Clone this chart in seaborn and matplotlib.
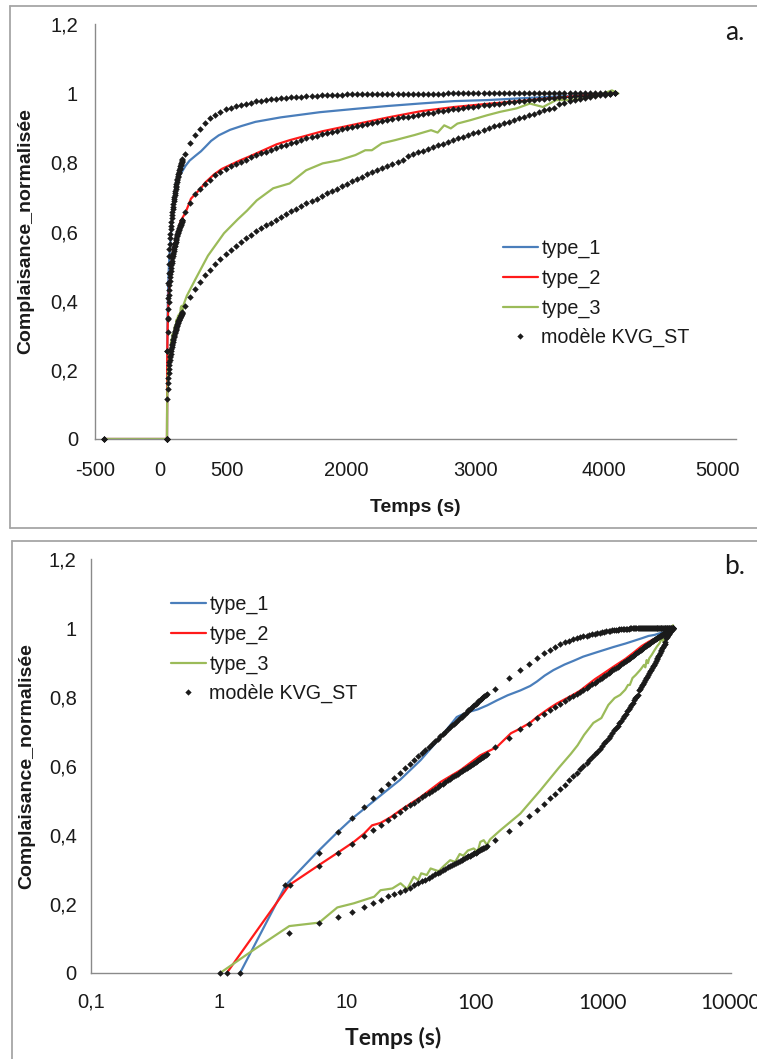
import matplotlib
matplotlib.use("Agg")
import matplotlib.pyplot as plt
import seaborn as sns
import pandas as pd
from matplotlib.lines import Line2D
from matplotlib.ticker import NullLocator

sns.set_style("white")
plt.rcParams['font.family'] = ['Liberation Sans', 'DejaVu Sans']

# ---------------- data (time in s, normalised compliance) ----------------
series_names = ["type_1", "type_2", "type_3"]
model_name = "modèle KVG_ST"

t1 = [-500, 0, 1.46, 3.33, 5.7, 8.2, 11, 15.3, 20.6, 26, 37.6, 54, 72, 77, 90,
      105, 125, 148, 180, 226, 270, 305, 350, 410, 500, 590, 700, 900, 1210, 1500,
      1750, 2000, 2270, 2530, 2900, 3290, 3560]
v1 = [0, 0, 0, 0.255, 0.346, 0.404, 0.448, 0.491, 0.530, 0.560, 0.617, 0.684, 0.742, 0.747, 0.757,
      0.764, 0.776, 0.790, 0.805, 0.819, 0.832, 0.845, 0.862, 0.878, 0.894, 0.905, 0.917, 0.930, 0.945, 0.955,
      0.963, 0.970, 0.977, 0.980, 0.987, 0.994, 1.0]

t2 = [-500, 0, 1.15, 3.54, 6.05, 8.65, 11.3, 13.6, 15.7, 18.3, 22, 26.2, 37.6, 54, 77,
      110, 148, 191, 211, 269, 305, 373, 435, 581, 660, 867, 971, 1232, 1491, 1751,
      2011, 2271, 2531, 2765, 3030, 3285, 3560]
v2 = [0, 0, 0, 0.255, 0.313, 0.351, 0.380, 0.404, 0.428, 0.435, 0.452, 0.472, 0.510, 0.554, 0.588,
      0.631, 0.655, 0.695, 0.703, 0.725, 0.742, 0.765, 0.781, 0.806, 0.818, 0.852, 0.864, 0.890, 0.910, 0.930,
      0.948, 0.960, 0.969, 0.976, 0.985, 0.993, 1.0]

t3 = [-500, 0, 1.02, 1.78, 3.54, 6.05, 8.4, 11.3, 16.3, 18.3, 22.6,
      26.2, 29.5, 33.2, 36, 38, 42, 45, 52, 57, 64, 70, 76, 81, 88, 97.6, 105, 110, 117, 124, 131,
      158, 226, 325, 452, 560, 633, 711, 841, 971, 1101, 1232, 1361, 1491, 1569, 1621, 1700, 1803, 1959,
      2089, 2141, 2193, 2245, 2297, 2401, 2531, 2635, 2765, 2870, 2974, 3078, 3182, 3285, 3415,
      3519, 3571]
v3 = [0, 0, 0, 0.062, 0.136, 0.146, 0.190, 0.202, 0.221, 0.240, 0.245,
      0.260, 0.243, 0.279, 0.269, 0.289, 0.284, 0.303, 0.295, 0.310, 0.327, 0.322, 0.345, 0.340, 0.355, 0.361, 0.352, 0.380, 0.385, 0.371, 0.387,
      0.414, 0.462, 0.530, 0.595, 0.635, 0.660, 0.690, 0.725, 0.739, 0.777, 0.797, 0.806, 0.821, 0.835, 0.835, 0.855, 0.864, 0.879,
      0.893, 0.886, 0.907, 0.898, 0.912, 0.922, 0.936, 0.946, 0.956, 0.970, 0.960, 0.980, 0.980, 0.984, 0.994,
      1.008, 0.999]

# model sampling times (shared by the three fits)
model_t_early = [6, 8.5, 11, 13.5, 16, 18.5, 21, 23.5, 26, 28.5,
                 31, 33.5, 36, 38.5, 41, 43.5, 46, 48.5, 51, 53.5,
                 56, 58.5, 61, 63.5, 66, 68.5, 71, 73.5, 76, 78.5,
                 81, 83.5, 86, 88.5, 91, 93.5, 96, 98.5, 101, 103.5,
                 106, 108.5, 111, 113.5, 116, 118.5, 121, 123.5]
model_t_late = [144, 184, 224, 264, 304, 344, 384, 424, 464, 504,
                544, 584, 624, 664, 704, 744, 784, 824, 864, 904,
                944, 984, 1024, 1064, 1104, 1144, 1184, 1224, 1264, 1304,
                1344, 1384, 1424, 1464, 1504, 1544, 1584, 1624, 1664, 1704,
                1744, 1784, 1824, 1864, 1904, 1944, 1984, 2024, 2064, 2104,
                2144, 2184, 2224, 2264, 2304, 2344, 2384, 2424, 2464, 2504,
                2544, 2584, 2624, 2664, 2704, 2744, 2784, 2824, 2864, 2904,
                2944, 2984, 3024, 3064, 3104, 3144, 3184, 3224, 3264, 3304,
                3344, 3384, 3424, 3464, 3504, 3544]

m1_head_t = [-500, 0, 1.46, 3.25]
m1_head_v = [0, 0, 0, 0.255]
m1_early = [0.349, 0.409, 0.450, 0.480, 0.507, 0.529, 0.549, 0.565, 0.580, 0.594,
            0.606, 0.617, 0.628, 0.638, 0.647, 0.656, 0.664, 0.672, 0.679, 0.687,
            0.693, 0.700, 0.706, 0.712, 0.718, 0.723, 0.728, 0.733, 0.738, 0.743,
            0.748, 0.752, 0.757, 0.761, 0.765, 0.769, 0.773, 0.777, 0.780, 0.784,
            0.788, 0.791, 0.794, 0.798, 0.801, 0.804, 0.807, 0.810]
m1_late = [0.823, 0.856, 0.878, 0.897, 0.914, 0.927, 0.937, 0.946, 0.953, 0.958,
           0.963, 0.967, 0.970, 0.973, 0.976, 0.978, 0.980, 0.982, 0.984, 0.985,
           0.986, 0.988, 0.989, 0.990, 0.991, 0.992, 0.993, 0.994, 0.994, 0.995,
           0.996, 0.996, 0.997, 0.997, 0.998, 0.998, 0.998, 0.999, 0.999, 0.999,
           0.999, 0.999, 0.999, 0.999, 0.999, 0.999, 0.999, 0.999, 0.999, 0.999,
           0.999, 0.999, 1.0, 1.0, 1.0, 1.0, 1.0, 1.0, 1.0, 1.0,
           1.0, 1.0, 1.0, 1.0, 1.0, 1.0, 1.0, 1.0, 1.0, 1.0,
           1.0, 1.0, 1.0, 1.0, 1.0, 1.0, 1.0, 1.0, 1.0, 1.0,
           1.0, 1.0, 1.0, 1.0, 1.0, 1.0]

m2_head_t = [-500, 0, 1.15, 3.6]
m2_head_v = [0, 0, 0, 0.255]
m2_early = [0.310, 0.347, 0.375, 0.397, 0.415, 0.430, 0.444, 0.456, 0.467, 0.477,
            0.486, 0.494, 0.502, 0.509, 0.516, 0.522, 0.528, 0.534, 0.539, 0.544,
            0.549, 0.554, 0.558, 0.563, 0.567, 0.571, 0.575, 0.578, 0.582, 0.586,
            0.589, 0.592, 0.595, 0.598, 0.601, 0.604, 0.607, 0.610, 0.613, 0.615,
            0.618, 0.620, 0.623, 0.625, 0.627, 0.630, 0.632, 0.634]
m2_late = [0.656, 0.682, 0.707, 0.722, 0.738, 0.750, 0.762, 0.772, 0.781, 0.789,
           0.796, 0.802, 0.808, 0.814, 0.820, 0.826, 0.831, 0.837, 0.842, 0.847,
           0.851, 0.856, 0.860, 0.865, 0.869, 0.873, 0.877, 0.881, 0.884, 0.888,
           0.891, 0.895, 0.898, 0.901, 0.904, 0.907, 0.910, 0.913, 0.916, 0.919,
           0.922, 0.925, 0.927, 0.930, 0.932, 0.935, 0.937, 0.940, 0.942, 0.944,
           0.947, 0.949, 0.951, 0.953, 0.955, 0.957, 0.959, 0.961, 0.963, 0.965,
           0.967, 0.969, 0.970, 0.972, 0.974, 0.975, 0.977, 0.978, 0.980, 0.981,
           0.983, 0.984, 0.985, 0.987, 0.988, 0.989, 0.990, 0.991, 0.992, 0.993,
           0.995, 0.996, 0.997, 0.998, 0.999, 1.000]

m3_head_t = [-500, 0, 1.02, 3.54]
m3_head_v = [0, 0, 0, 0.117]
m3_early = [0.146, 0.163, 0.177, 0.191, 0.202, 0.213, 0.222, 0.229, 0.236, 0.240,
            0.247, 0.254, 0.260, 0.266, 0.271, 0.276, 0.281, 0.286, 0.290, 0.294,
            0.298, 0.302, 0.306, 0.309, 0.313, 0.316, 0.319, 0.322, 0.325, 0.328,
            0.330, 0.333, 0.336, 0.338, 0.340, 0.343, 0.345, 0.347, 0.349, 0.352,
            0.354, 0.356, 0.358, 0.360, 0.361, 0.363, 0.365, 0.367]
m3_late = [0.385, 0.412, 0.434, 0.455, 0.473, 0.490, 0.506, 0.520, 0.534, 0.546,
           0.558, 0.570, 0.580, 0.590, 0.600, 0.609, 0.618, 0.626, 0.634, 0.642,
           0.650, 0.658, 0.666, 0.673, 0.681, 0.688, 0.695, 0.703, 0.710, 0.717,
           0.724, 0.731, 0.738, 0.745, 0.752, 0.758, 0.765, 0.771, 0.778, 0.784,
           0.790, 0.796, 0.801, 0.806, 0.819, 0.824, 0.829, 0.834, 0.839, 0.844,
           0.849, 0.854, 0.859, 0.864, 0.869, 0.874, 0.879, 0.884, 0.889, 0.894,
           0.899, 0.904, 0.909, 0.914, 0.918, 0.923, 0.928, 0.932, 0.937, 0.941,
           0.946, 0.950, 0.954, 0.958, 0.970, 0.973, 0.976, 0.979, 0.982, 0.985,
           0.988, 0.991, 0.994, 0.996, 0.998, 1.000]

y_ticks = [0, 0.2, 0.4, 0.6, 0.8, 1.0, 1.2]
y_ticklabels = ["0", "0,2", "0,4", "0,6", "0,8", "1", "1,2"]
top_xlabels = ["-500", "0", "500", "2000", "3000", "4000", "5000"]
log_ticks = [0.1, 1, 10, 100, 1000, 10000]
log_ticklabels = ["0,1", "1", "10", "100", "1000", "10000"]

# ---------------- tidy frames ----------------
exp_df = pd.concat([
    pd.DataFrame({"t": t, "v": v, "serie": n})
    for t, v, n in [(t1, v1, "type_1"), (t2, v2, "type_2"), (t3, v3, "type_3")]
], ignore_index=True)

model_grid = model_t_early + model_t_late
model_df = pd.concat([
    pd.DataFrame({"t": ht + model_grid, "v": hv + e + l, "fit": k})
    for ht, hv, e, l, k in [(m1_head_t, m1_head_v, m1_early, m1_late, 1),
                            (m2_head_t, m2_head_v, m2_early, m2_late, 2),
                            (m3_head_t, m3_head_v, m3_early, m3_late, 3)]
], ignore_index=True)

palette = {"type_1": "#4a7ebb", "type_2": "#ff1a1a", "type_3": "#9bbb59"}
dot_color = "#1a1a1a"
axis_gray = "#8a8a8a"

# ---------------- figure ----------------
W, H = 757, 1059
fig = plt.figure(figsize=(W / 100, H / 100), dpi=100)


def fx(px):
    return px / W


def fy(py):
    return 1 - py / H


ax1 = fig.add_axes([fx(95), fy(439), fx(736) - fx(95), fy(24) - fy(439)])
ax2 = fig.add_axes([fx(91), fy(973), fx(731) - fx(91), fy(559) - fy(973)])
ax2.set_xscale("log")


def draw(ax, edf, mdf):
    sns.lineplot(data=edf, x="t", y="v", hue="serie", hue_order=series_names,
                 palette=palette, sort=False, estimator=None, linewidth=1.6,
                 legend=False, ax=ax, zorder=2)
    sns.scatterplot(data=mdf, x="t", y="v", color=dot_color, marker="D", s=11,
                    linewidth=0, legend=False, ax=ax, zorder=3, clip_on=False)


draw(ax1, exp_df, model_df)
draw(ax2, exp_df[exp_df["t"] > 0], model_df[model_df["t"] > 0])

for ax in (ax1, ax2):
    for s in ("top", "right"):
        ax.spines[s].set_visible(False)
    for s in ("left", "bottom"):
        ax.spines[s].set_color(axis_gray)
        ax.spines[s].set_linewidth(1.0)
    ax.set_ylim(0, 1.2)
    ax.set_yticks(y_ticks)
    ax.set_yticklabels(y_ticklabels)
    ax.tick_params(axis="both", which="major", direction="out", length=4.3,
                   width=1, color=axis_gray, labelsize=14.5, labelcolor="#1a1a1a")
    ax.set_ylabel("Complaisance_normalisée", fontsize=14, fontweight="bold",
                  color="#1a1a1a")
    ax.yaxis.label.set_va("center")

# top panel axes
ax1.set_xlim(-500, 4500)
ax1.set_xticks([-500, 500, 1500, 2500, 3500, 4500])
ax1.set_xticklabels([])
ax1.set_xticks([-568, -53, 478, 1421, 2443, 3457, 4354], minor=True)
ax1.set_xticklabels(top_xlabels, minor=True)
ax1.tick_params(axis="x", which="minor", length=0, pad=16, labelsize=14.5,
                labelcolor="#1a1a1a")
ax1.tick_params(axis="y", pad=8)
ax1.set_xlabel("Temps (s)", fontsize=14, fontweight="bold", color="#1a1a1a")
ax1.xaxis.label.set_va("center")
ax1.xaxis.set_label_coords(0.5, (439 - 507) / 415)
ax1.yaxis.set_label_coords((26 - 95) / 641, 0.5)

# bottom panel axes
ax2.set_xlim(0.1, 10000)
ax2.set_xticks(log_ticks)
ax2.set_xticklabels(log_ticklabels)
ax2.xaxis.set_minor_locator(NullLocator())
ax2.tick_params(axis="x", pad=10)
ax2.tick_params(axis="y", pad=6)
for lab in ax2.get_xticklabels()[3:]:
    lab.set_family("Lato")
    lab.set_fontsize(15)
ax2.set_xlabel("Temps (s)", fontsize=16.5, fontweight="bold", family="Lato",
               color="#1a1a1a")
ax2.xaxis.label.set_va("center")
ax2.xaxis.set_label_coords((393 - 91) / 640, (973 - 1038) / 414)
ax2.yaxis.set_label_coords((27 - 91) / 640, 0.5)

# legends
handles = [Line2D([0], [0], color=palette[n], lw=1.6) for n in series_names]
handles.append(Line2D([0], [0], marker="D", color=dot_color, ls="none",
                      markersize=3.2, markeredgewidth=0))
labels = series_names + [model_name]
for ax, (lx, ly) in ((ax1, (503, 239)), (ax2, (171, 595))):
    ax.legend(handles, labels, loc="upper left",
              bbox_to_anchor=(fx(lx), fy(ly)), bbox_transform=fig.transFigure,
              frameon=False, borderpad=0, borderaxespad=0, handlelength=1.75,
              handletextpad=0.2, labelspacing=0.53, fontsize=14.2,
              labelcolor="#1a1a1a")

# panel letters
fig.text(fx(735), fy(32), "a.", ha="center", va="center", fontsize=19,
         family="Lato", color="#1a1a1a")
fig.text(fx(735), fy(566), "b.", ha="center", va="center", fontsize=19,
         family="Lato", color="#1a1a1a")

# panel frames
frame_kw = dict(color="#a6a6a6", lw=1.3, transform=fig.transFigure)
fig.add_artist(Line2D([fx(10), fx(757)], [fy(6), fy(6)], **frame_kw))
fig.add_artist(Line2D([fx(10), fx(10)], [fy(6), fy(528)], **frame_kw))
fig.add_artist(Line2D([fx(10), fx(757)], [fy(528), fy(528)], **frame_kw))
fig.add_artist(Line2D([fx(12), fx(757)], [fy(541), fy(541)], **frame_kw))
fig.add_artist(Line2D([fx(12), fx(12)], [fy(541), fy(1059)], **frame_kw))

fig.savefig("out.png", dpi=100)
